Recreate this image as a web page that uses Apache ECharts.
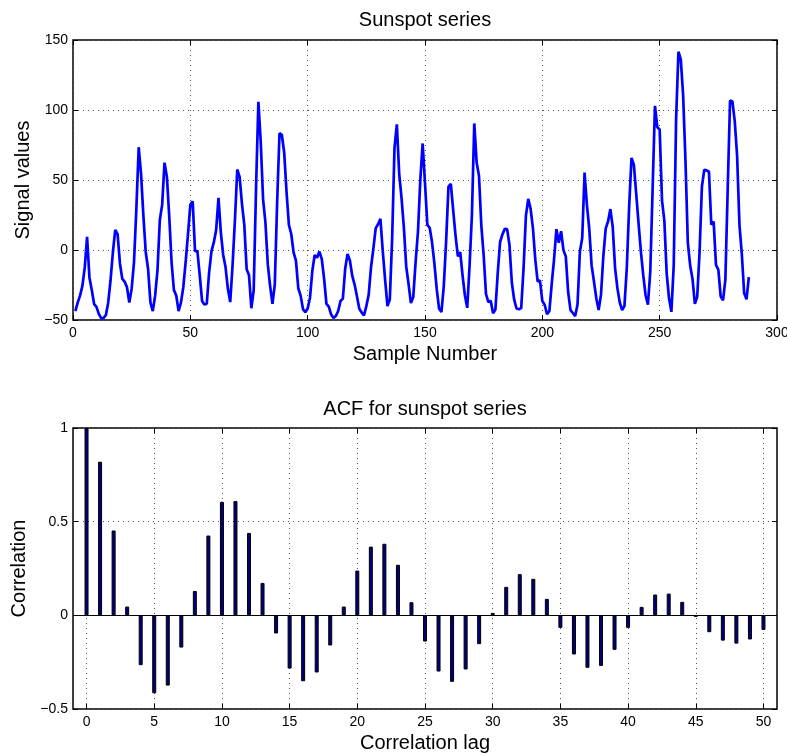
<!DOCTYPE html>
<html>
<head>
<meta charset="utf-8">
<script src="https://cdn.jsdelivr.net/npm/echarts@6/dist/echarts.min.js"></script>
<style>
html,body{margin:0;padding:0;background:#fff;}
#chart{width:787px;height:755px;}
</style>
</head>
<body>
<div id="chart"></div>
<script>
// Mean-removed yearly sunspot numbers (sample 1 .. 288)
const signalValues = [
-43.6,-37.6,-32.6,-25.6,-12.6,9.4,-19.6,-28.6,-38.6,-40.6,
-45.6,-48.6,-48.6,-46.6,-37.6,-21.6,-1.6,14.4,11.4,-9.6,
-20.6,-22.6,-26.6,-37.6,-27.6,-8.6,29.4,73.4,54.4,24.4,
-1.6,-13.6,-37.6,-43.6,-32.6,-14.6,21.4,32.4,62.4,52.4,
24.4,-8.6,-28.6,-32.6,-43.6,-37.6,-26.6,-8.6,11.4,32.3,
34.8,-0.9,-0.8,-17.9,-36.4,-39.0,-38.4,-16.2,-1.0,5.4,
14.3,37.3,12.6,-3.5,-12.2,-27.7,-37.2,-10.8,21.2,57.5,
52.2,33.0,17.9,-13.8,-18.0,-41.6,-28.8,43.9,105.8,77.3,
36.2,19.5,-10.1,-25.8,-38.4,-24.5,34.3,83.4,82.3,69.5,
41.3,18.0,11.4,-1.7,-7.6,-27.3,-32.6,-42.2,-44.5,-41.8,
-34.1,-14.6,-3.6,-5.5,-1.1,-6.4,-20.5,-38.5,-40.5,-46.1,
-48.6,-47.2,-43.6,-36.4,-34.7,-13.2,-2.8,-7.5,-18.5,-24.7,
-33.0,-42.0,-44.6,-46.8,-40.1,-32.0,-12.3,1.0,15.6,18.4,
22.3,-0.8,-21.1,-40.1,-35.4,8.3,72.9,89.7,54.6,37.1,
16.0,-11.9,-24.4,-37.9,-33.6,-8.5,12.9,49.9,76.1,47.7,
18.0,15.9,5.5,-9.6,-28.0,-41.9,-44.3,-25.9,6.2,45.2,
47.2,28.6,10.5,-4.6,-1.6,-18.1,-32.3,-41.3,-11.0,25.4,
90.4,62.6,53.0,17.6,-3.9,-31.6,-37.3,-36.2,-45.2,-42.6,
-16.3,5.7,11.1,15.1,14.9,3.6,-23.2,-35.5,-41.8,-42.3,
-41.5,-13.0,24.4,36.5,29.4,15.4,-6.8,-22.4,-21.9,-36.5,
-39.1,-45.9,-43.6,-24.2,-6.6,14.9,5.2,13.4,-0.1,-4.7,
-30.0,-42.9,-45.0,-47.2,-39.0,-1.2,8.5,55.3,32.0,15.0,
-11.0,-22.5,-34.4,-42.8,-31.9,-4.3,15.3,20.4,29.2,16.3,
-12.9,-27.4,-37.5,-42.9,-39.9,-12.5,31.1,65.8,61.0,40.2,
19.2,-1.1,-18.0,-32.3,-39.0,-15.4,44.0,103.0,87.7,86.1,
35.3,20.8,-17.1,-34.7,-44.2,-10.6,93.1,141.6,136.2,110.4,
63.7,5.3,-11.1,-20.7,-38.4,-33.5,-1.6,45.2,57.3,56.9,
55.9,18.0,20.3,-10.6,-14.1,-33.1,-36.0,-21.1,43.9,106.8,
106.1,91.9,67.3,18.0,-2.7,-30.7,-35.2,-19.3
];

// Autocorrelation
const lags = [0,1,2,3,4,5,6,7,8,9,10,11,12,13,14,15,16,17,18,19,20,21,22,23,24,25,
  26,27,28,29,30,31,32,33,34,35,36,37,38,39,40,41,42,43,44,45,46,47,48,49,50];
const acfValues = [1.0,0.82,0.453,0.047,-0.266,-0.416,-0.375,-0.172,0.13,0.426,
  0.606,0.61,0.44,0.173,-0.097,-0.284,-0.352,-0.305,-0.161,0.047,
  0.239,0.367,0.382,0.27,0.07,-0.14,-0.3,-0.355,-0.289,-0.154,
  0.013,0.152,0.22,0.195,0.088,-0.067,-0.209,-0.28,-0.27,-0.184,
  -0.067,0.045,0.111,0.116,0.072,-0.008,-0.09,-0.135,-0.151,-0.129,-0.078];

const lagTicks = [0,5,10,15,20,25,30,35,40,45,50];

const FONT = '"Liberation Sans", Arial, Helvetica, sans-serif';
const minus = v => String(v).replace('-', '\u2212');

const lineData = signalValues.map((v, i) => [i + 1, v]);
const barData = lags.map((l, i) => [l, acfValues[i]]);

const noLine = {show: false, onZero: false};
const tickStyle = {show: true, inside: true, length: 5, lineStyle: {color: '#000', width: 1}};
const splitStyle = {show: true, lineStyle: {color: '#555', width: 1, type: [1, 4]}};
const labelStyle = {color: '#000', fontSize: 14, fontFamily: FONT};
const nameStyle = {color: '#000', fontSize: 20, fontFamily: FONT};

const chart = echarts.init(document.getElementById('chart'), null, {renderer: 'canvas'});
chart.setOption({
  animation: false,
  backgroundColor: '#fff',
  title: [
    {text: 'Sunspot series', left: 425, top: 10, textAlign: 'center', padding: 0,
     textStyle: {color: '#000', fontSize: 20, fontWeight: 'normal', fontFamily: FONT}},
    {text: 'ACF for sunspot series', left: 425, top: 399, textAlign: 'center', padding: 0,
     textStyle: {color: '#000', fontSize: 20, fontWeight: 'normal', fontFamily: FONT}}
  ],
  grid: [
    {left: 73, top: 40, width: 704, height: 280, show: true, borderColor: '#000', borderWidth: 1.5,
     backgroundColor: 'transparent', outerBoundsMode: 'none', containLabel: false},
    {left: 73, top: 428, width: 704, height: 281, show: true, borderColor: '#000', borderWidth: 1.5,
     backgroundColor: 'transparent', outerBoundsMode: 'none', containLabel: false}
  ],
  xAxis: [
    {type: 'value', gridIndex: 0, position: 'bottom', min: 0, max: 300, interval: 50,
     axisLine: noLine, axisTick: tickStyle, splitLine: splitStyle,
     axisLabel: Object.assign({margin: 6}, labelStyle),
     name: 'Sample Number', nameLocation: 'middle', nameGap: 24, nameTextStyle: nameStyle},
    {type: 'value', gridIndex: 0, position: 'top', min: 0, max: 300, interval: 50,
     axisLine: noLine, axisTick: tickStyle, splitLine: {show: false}, axisLabel: {show: false}},
    {type: 'value', gridIndex: 1, position: 'bottom', min: -1, max: 51, splitNumber: 10,
     axisLine: noLine,
     axisTick: Object.assign({customValues: lagTicks}, tickStyle),
     splitLine: splitStyle,
     axisLabel: Object.assign({margin: 6, customValues: lagTicks}, labelStyle),
     name: 'Correlation lag', nameLocation: 'middle', nameGap: 24, nameTextStyle: nameStyle},
    {type: 'value', gridIndex: 1, position: 'top', min: -1, max: 51, splitNumber: 10,
     axisLine: noLine,
     axisTick: Object.assign({customValues: lagTicks}, tickStyle),
     splitLine: {show: false}, axisLabel: {show: false}}
  ],
  yAxis: [
    {type: 'value', gridIndex: 0, position: 'left', min: -50, max: 150, interval: 50,
     axisLine: noLine, axisTick: tickStyle, splitLine: splitStyle,
     axisLabel: Object.assign({margin: 5, formatter: minus}, labelStyle),
     name: 'Signal values', nameLocation: 'middle', nameGap: 36, nameTextStyle: nameStyle},
    {type: 'value', gridIndex: 0, position: 'right', min: -50, max: 150, interval: 50,
     axisLine: noLine, axisTick: tickStyle, splitLine: {show: false}, axisLabel: {show: false}},
    {type: 'value', gridIndex: 1, position: 'left', min: -0.5, max: 1, interval: 0.5,
     axisLine: noLine, axisTick: tickStyle, splitLine: splitStyle,
     axisLabel: Object.assign({margin: 5, formatter: minus}, labelStyle),
     name: 'Correlation', nameLocation: 'middle', nameGap: 36, nameTextStyle: nameStyle},
    {type: 'value', gridIndex: 1, position: 'right', min: -0.5, max: 1, interval: 0.5,
     axisLine: noLine, axisTick: tickStyle, splitLine: {show: false}, axisLabel: {show: false}}
  ],
  series: [
    {type: 'line', xAxisIndex: 0, yAxisIndex: 0, data: lineData, showSymbol: false, symbol: 'none',
     lineStyle: {color: '#0000ff', width: 2.7}, clip: true},
    {type: 'bar', xAxisIndex: 2, yAxisIndex: 2, data: barData, barWidth: 4,
     itemStyle: {color: '#00007f', borderColor: '#000', borderWidth: 1},
     markLine: {silent: true, symbol: 'none', label: {show: false},
       lineStyle: {color: '#000', type: 'solid', width: 1}, data: [{yAxis: 0}]}}
  ]
});
</script>
</body>
</html>
